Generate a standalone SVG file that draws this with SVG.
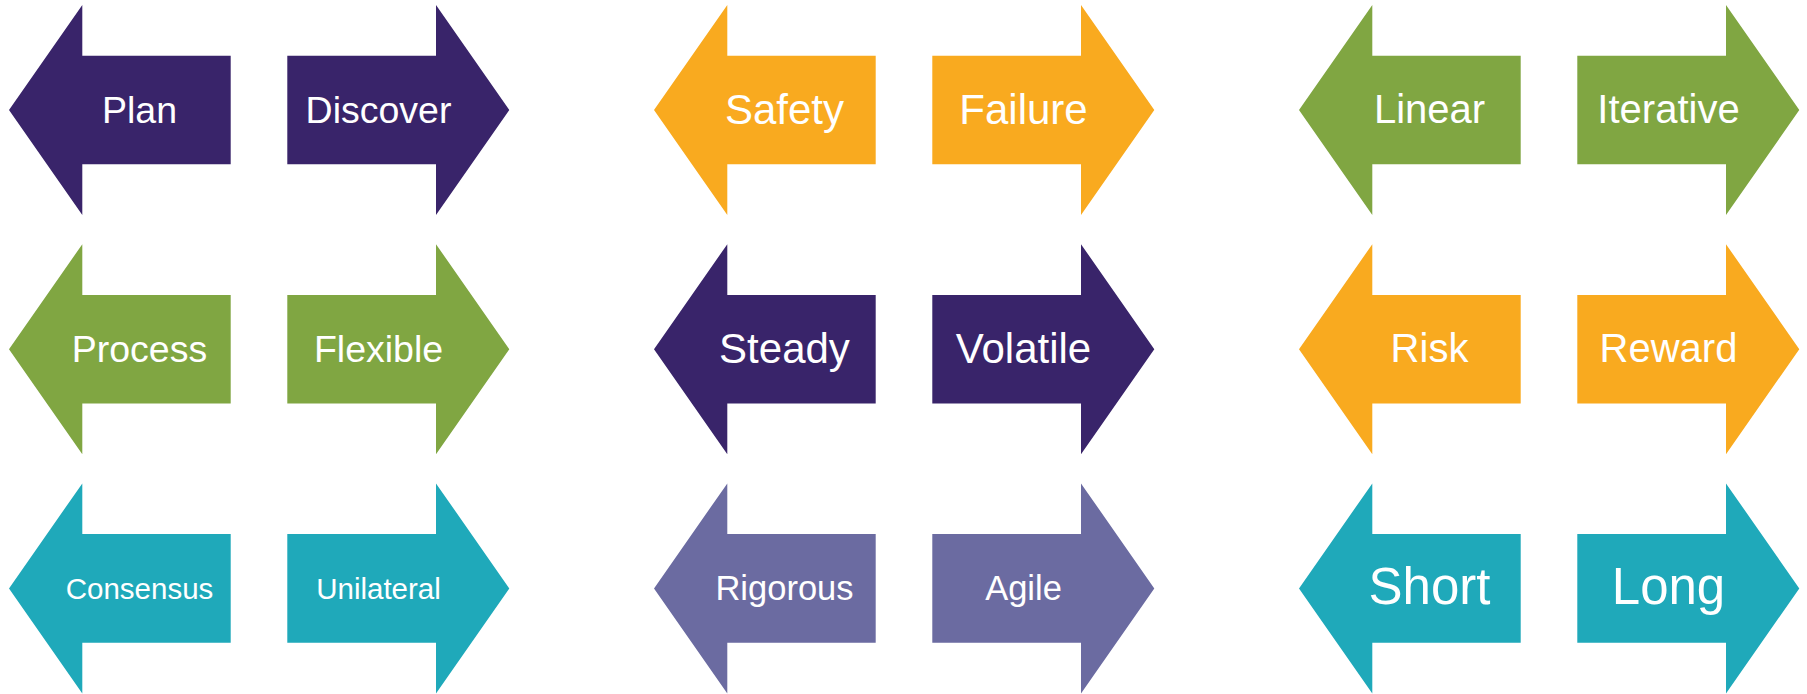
<svg xmlns="http://www.w3.org/2000/svg" xmlns:xlink="http://www.w3.org/1999/xlink" width="1807" height="694" viewBox="0 0 1807 694">
  <style>
    .purple { fill: #39246A; }
    .orange { fill: #F9AA1F; }
    .green { fill: #80A642; }
    .teal { fill: #1FA9BA; }
    .lavender { fill: #6B6BA1; }
    text { fill: #FFFFFF; font-family: "Liberation Sans", Arial, sans-serif; text-anchor: middle; }
    .s30 { font-size: 29.5px; }
    .s34 { font-size: 34.5px; }
    .s38 { font-size: 37.5px; }
    .s40 { font-size: 40px; }
    .s42 { font-size: 42px; }
    .s51 { font-size: 51px; }
  </style>
  <defs>
    <!-- arrow shapes, drawn around the row's centre line -->
    <path id="arrow-left" d="M9,0 L82.3,-105 L82.3,-54.3 L230.7,-54.3 L230.7,54.3 L82.3,54.3 L82.3,105 Z"/>
    <path id="arrow-right" d="M287.3,-54.3 L436,-54.3 L436,-105 L509.3,0 L436,105 L436,54.3 L287.3,54.3 Z"/>
  </defs>

  <g id="connectors"/>

  <!-- column 1 -->
  <g id="plan" transform="translate(0,110)">
    <use xlink:href="#arrow-left" class="purple"/>
    <text class="s38" x="139.5" y="12.5">Plan</text>
  </g>
  <g id="discover" transform="translate(0,110)">
    <use xlink:href="#arrow-right" class="purple"/>
    <text class="s38" x="378.5" y="12.5">Discover</text>
  </g>
  <g id="process" transform="translate(0,349.2)">
    <use xlink:href="#arrow-left" class="green"/>
    <text class="s38" x="139.5" y="12.5">Process</text>
  </g>
  <g id="flexible" transform="translate(0,349.2)">
    <use xlink:href="#arrow-right" class="green"/>
    <text class="s38" x="378.5" y="12.5">Flexible</text>
  </g>
  <g id="consensus" transform="translate(0,588.4)">
    <use xlink:href="#arrow-left" class="teal"/>
    <text class="s30" x="139.5" y="10.2">Consensus</text>
  </g>
  <g id="unilateral" transform="translate(0,588.4)">
    <use xlink:href="#arrow-right" class="teal"/>
    <text class="s30" x="378.5" y="10.2">Unilateral</text>
  </g>

  <!-- column 2 -->
  <g id="safety" transform="translate(645,110)">
    <use xlink:href="#arrow-left" class="orange"/>
    <text class="s42" x="139.5" y="13.5">Safety</text>
  </g>
  <g id="failure" transform="translate(645,110)">
    <use xlink:href="#arrow-right" class="orange"/>
    <text class="s42" x="378.5" y="13.5">Failure</text>
  </g>
  <g id="steady" transform="translate(645,349.2)">
    <use xlink:href="#arrow-left" class="purple"/>
    <text class="s42" x="139.5" y="13.5">Steady</text>
  </g>
  <g id="volatile" transform="translate(645,349.2)">
    <use xlink:href="#arrow-right" class="purple"/>
    <text class="s42" x="378.5" y="13.5">Volatile</text>
  </g>
  <g id="rigorous" transform="translate(645,588.4)">
    <use xlink:href="#arrow-left" class="lavender"/>
    <text class="s34" x="139.5" y="11.6">Rigorous</text>
  </g>
  <g id="agile" transform="translate(645,588.4)">
    <use xlink:href="#arrow-right" class="lavender"/>
    <text class="s34" x="378.5" y="11.6">Agile</text>
  </g>

  <!-- column 3 -->
  <g id="linear" transform="translate(1290,110)">
    <use xlink:href="#arrow-left" class="green"/>
    <text class="s40" x="139.5" y="12.5">Linear</text>
  </g>
  <g id="iterative" transform="translate(1290,110)">
    <use xlink:href="#arrow-right" class="green"/>
    <text class="s40" x="378.5" y="12.5">Iterative</text>
  </g>
  <g id="risk" transform="translate(1290,349.2)">
    <use xlink:href="#arrow-left" class="orange"/>
    <text class="s40" x="139.5" y="13.2">Risk</text>
  </g>
  <g id="reward" transform="translate(1290,349.2)">
    <use xlink:href="#arrow-right" class="orange"/>
    <text class="s40" x="378.5" y="13.2">Reward</text>
  </g>
  <g id="short" transform="translate(1290,588.4)">
    <use xlink:href="#arrow-left" class="teal"/>
    <text class="s51" x="139.5" y="15.7">Short</text>
  </g>
  <g id="long" transform="translate(1290,588.4)">
    <use xlink:href="#arrow-right" class="teal"/>
    <text class="s51" x="378.5" y="15.7">Long</text>
  </g>
</svg>
